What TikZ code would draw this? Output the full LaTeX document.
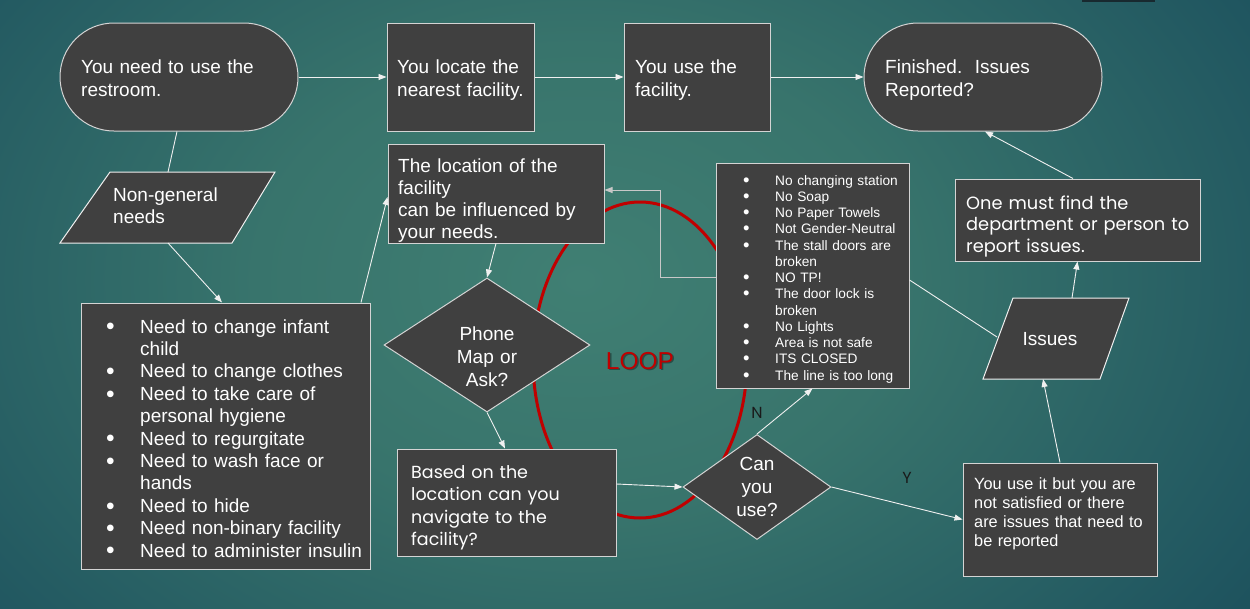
\documentclass[tikz,border=0pt]{standalone}
\usepackage{fontspec}
\setmainfont{Liberation Sans}
\newfontfamily\gothic{Poppins}
\usetikzlibrary{arrows.meta,shapes.geometric}

\definecolor{boxfill}{HTML}{404040}
\definecolor{boxline}{HTML}{D4D4D4}
\definecolor{connc}{HTML}{F0F0F0}
\definecolor{greyc}{HTML}{C8C8C8}
\definecolor{loopred}{HTML}{C00000}
\definecolor{labelc}{HTML}{1A1A1A}
\definecolor{topbar}{HTML}{18292F}
\definecolor{bgA}{HTML}{407F73}
\definecolor{bgB}{HTML}{38746C}
\definecolor{bgC}{HTML}{205660}
\definecolor{bgD}{HTML}{0E3846}
\definecolor{bgE}{HTML}{0B3341}
\pgfdeclareradialshading{bgshade}{\pgfpoint{0bp}{0bp}}{color(0bp)=(bgA); color(9bp)=(bgB); color(21bp)=(bgC); color(33bp)=(bgD); color(50bp)=(bgE)}

\newcommand\fsL{\fontsize{19}{23}\selectfont}
\newcommand\fsLL{\fontsize{19}{22.4}\selectfont}
\newcommand\fsM{\fontsize{16.3}{19.3}\selectfont}
\newcommand\fsS{\fontsize{13.7}{16.25}\selectfont}
\newcommand\fsG{\gothic\fontsize{17.5}{22.5}\selectfont}
\newcommand\fsR{\gothic\fontsize{17.8}{21.5}\selectfont}
\newcommand\bigbul{\raisebox{-1.8pt}[0pt][0pt]{\fontsize{24.5}{0}\selectfont\textbullet}}
\newcommand\midbul{\raisebox{-1.2pt}[0pt][0pt]{\fontsize{18.5}{0}\selectfont\textbullet}}
\newcommand\bulA{\makebox[34pt][l]{\bigbul}}
\newcommand\indA{\hspace*{34pt}}
\newcommand\bulB{\makebox[32pt][l]{\midbul}}
\newcommand\indB{\hspace*{32pt}}

\begin{document}
\begin{tikzpicture}[x=1pt,y=-1pt,
  box/.style={draw=boxline, fill=boxfill, line width=1pt, rectangle, inner sep=0pt},
  term/.style={box, rounded corners=54pt},
  dia/.style={draw=boxline, fill=boxfill, line width=1pt, diamond, inner sep=0pt},
  txt/.style={text=white, inner sep=0pt, anchor=base west, align=left, text width=280pt},
  ctxt/.style={text=white, inner sep=0pt, anchor=base, align=center, text width=120pt, font=\fsL},
  conn/.style={draw=connc, line width=0.9pt, -{Triangle[length=8pt,width=6pt]}},
  plain/.style={draw=connc, line width=0.9pt},
  para/.style={draw=connc, fill=boxfill, line width=1pt},
  lbl/.style={text=labelc, inner sep=0pt, anchor=base, font=\gothic\fontsize{16}{18}\selectfont}
]
\useasboundingbox (0,0) rectangle (1250,608);
\begin{scope}
  \clip (0,0) rectangle (1250,608);
  \shade[shading=bgshade] (580,280) ellipse [x radius=900, y radius=650];
  \fill[topbar] (1082,-2) rectangle (1155,2);
\end{scope}

% loop ellipse
\draw[loopred, line width=3pt] (640,360) ellipse [x radius=107, y radius=158];
\node[text=black, opacity=0.35, inner sep=0pt, anchor=base, font=\fontsize{24.5}{28}\selectfont] (loopS) at (641.5,370.5) {LOOP};
\node[text=loopred, inner sep=0pt, anchor=base, font=\fontsize{24.5}{28}\selectfont] (loop) at (640,369) {LOOP};

% shapes
\node[term, minimum width=238pt, minimum height=108pt] (start) at (179,77) {};
\node[box, minimum width=147pt, minimum height=108pt] (locate) at (460.5,77) {};
\node[box, minimum width=146pt, minimum height=108pt] (use) at (697,77) {};
\node[term, minimum width=238pt, minimum height=108pt] (finish) at (983,77) {};
\node[box, minimum width=216pt, minimum height=99pt] (loc) at (496,193.5) {};
\node[box, minimum width=289pt, minimum height=266pt] (list) at (225.5,436) {};
\node[box, minimum width=219pt, minimum height=107pt] (based) at (506.5,502.5) {};
\node[box, minimum width=193pt, minimum height=225pt] (list2) at (812.5,275.5) {};
\node[box, minimum width=245pt, minimum height=82pt] (report) at (1077.5,220) {};
\node[box, minimum width=194pt, minimum height=113pt] (sat) at (1060,519.5) {};
\node[dia, minimum width=206pt, minimum height=134pt] (phone) at (487,345) {};
\node[dia, minimum width=148pt, minimum height=105pt] (can) at (757,487) {};

% parallelograms
\draw[para] (110,172) -- (275,172) -- (232,243) -- (60,243) -- cycle;
\coordinate (ngpT) at (168,172);
\coordinate (ngpB) at (168,243);
\draw[para] (1013,298) -- (1129,298) -- (1100,379) -- (983,379) -- cycle;
\coordinate (issT) at (1072,298);
\coordinate (issB) at (1043,379);
\coordinate (issL) at (997,337);

% texts
\node[txt, font=\fsL] (startT) at (81,73) {You need to use the\\restroom.};
\node[txt, font=\fsL] (locateT) at (397,73) {You locate the\\nearest facility.};
\node[txt, font=\fsL] (useT) at (635,73) {You use the\\facility.};
\node[txt, font=\fsL] (finishT) at (885,73) {Finished.\ \ Issues\\Reported?};
\node[txt, font=\fontsize{19}{22}\selectfont] (ngpText) at (113,201) {Non-general\\needs};
\node[txt, font=\fontsize{19}{22.2}\selectfont] (locT) at (398,172) {The location of the\\facility\\can be influenced by\\your needs.};
\node[ctxt] (phoneT) at (487,340) {Phone\\Map or\\Ask?};
\node[ctxt] (canT) at (757,470) {Can\\you\\use?};
\node[txt, font=\fsLL] (listT) at (106,333) {\bulA Need to change infant\\\indA child\\\bulA Need to change clothes\\\bulA Need to take care of\\\indA personal hygiene\\\bulA Need to regurgitate\\\bulA Need to wash face or\\\indA hands\\\bulA Need to hide\\\bulA Need non-binary facility\\\bulA Need to administer insulin};
\node[txt, font=\fsS] (list2T) at (743,185) {\bulB No changing station\\\bulB No Soap\\\bulB No Paper Towels\\\bulB Not Gender-Neutral\\\bulB The stall doors are\\\indB broken\\\bulB NO TP!\\\bulB The door lock is\\\indB broken\\\bulB No Lights\\\bulB Area is not safe\\\bulB ITS CLOSED\\\bulB The line is too long};
\node[txt, font=\fsG] (basedT) at (411,478) {Based on the\\location can you\\navigate to the\\facility?};
\node[txt, font=\fsR] (reportT) at (966,209) {One must find the\\department or person to\\report issues.};
\node[txt, font=\fsM] (satT) at (974,489) {You use it but you are\\not satisfied or there\\are issues that need to\\be reported};
\node[text=white, inner sep=0pt, anchor=base, font=\fsL] (issues) at (1050,345) {Issues};

% connectors
\draw[conn] (start.east) -- (locate.west);
\draw[conn] (locate.east) -- (use.west);
\draw[conn] (use.east) -- (finish.west);
\draw[plain] ([xshift=-2pt]start.south) -- (ngpT);
\draw[conn] (ngpB) -- ([xshift=-3.5pt]list.north);
\draw[conn] ([xshift=135.5pt]list.north) -- ([yshift=-3.5pt]loc.west);
\draw[conn] (loc.south) -- (phone.north);
\draw[conn] (phone.south) -- ([xshift=-1.5pt]based.north);
\draw[conn] ([yshift=18.5pt]based.east) -- (can.west);
\draw[conn] (can.north) -- (list2.south);
\node[lbl] (nlabel) at (757,418) {N};
\draw[conn] (can.east) -- (sat.west);
\node[lbl] (ylabel) at (907,483) {Y};
\draw[draw=greyc, line width=0.9pt, -{Triangle[length=8pt,width=6pt]}] ([yshift=-1.5pt]list2.west) -- (660,277) -- (660,190) -- ([yshift=3.5pt]loc.east);
\draw[plain] ([yshift=-4.5pt]list2.east) -- (issL);
\draw[conn] (sat.north) -- (issB);
\draw[conn] (issT) -- (report.south);
\draw[conn] ([xshift=-4.5pt]report.north) -- ([xshift=2pt]finish.south);
\end{tikzpicture}
\end{document}
